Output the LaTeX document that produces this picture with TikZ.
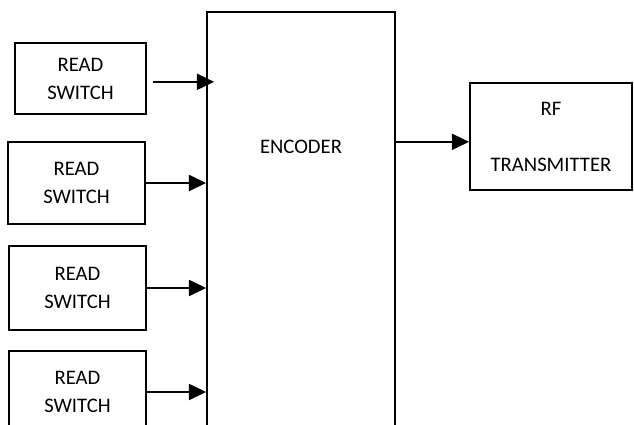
\documentclass[tikz,border=0pt]{standalone}
\usepackage{fontspec}
\setmainfont{Carlito}
\usetikzlibrary{arrows.meta}

\tikzset{
  block/.style={draw, line width=1.3pt, align=center, inner sep=0pt,
    font=\fontsize{15.5}{21}\selectfont},
  link/.style={line width=1.8pt, -{Triangle[length=13pt,width=12pt]}}
}

\begin{document}
\begin{tikzpicture}[x=0.75pt, y=-0.75pt]
  \useasboundingbox (0,0) rectangle (634,424);
  \clip (0,0) rectangle (634,424);
  % input switches
  \node[block, minimum width=98pt, minimum height=53pt] (sw1) at (80.5,78.5) {READ\\SWITCH};
  \node[block, minimum width=103pt, minimum height=61.5pt] (sw2) at (76.5,183) {READ\\SWITCH};
  \node[block, minimum width=103pt, minimum height=63pt] (sw3) at (77.5,288) {READ\\SWITCH};
  \node[block, minimum width=103pt, minimum height=61.5pt] (sw4) at (77.5,392) {READ\\SWITCH};
  % encoder and transmitter
  \node[block, minimum width=141pt, minimum height=321pt] (enc) at (301,226) {};
  \node[font=\fontsize{15.5}{21}\selectfont] (enclabel) at (301,147) {ENCODER};
  \node[block, minimum width=121.5pt, minimum height=80pt] (rf) at (551,136.5) {RF\\[21pt]TRANSMITTER};
  % connections
  \draw[link] ([xshift=4.5pt,yshift=-2.5pt]sw1.east) -- ([xshift=6pt,yshift=-2.5pt]sw1.east -| enc.west);
  \draw[link] (sw2.east) -- (sw2.east -| enc.west);
  \draw[link] (sw3.east) -- (sw3.east -| enc.west);
  \draw[link] (sw4.east) -- (sw4.east -| enc.west);
  \draw[link] ([yshift=-4pt]enc.east |- rf.west) -- ([yshift=-4pt]rf.west);
\end{tikzpicture}
\end{document}
